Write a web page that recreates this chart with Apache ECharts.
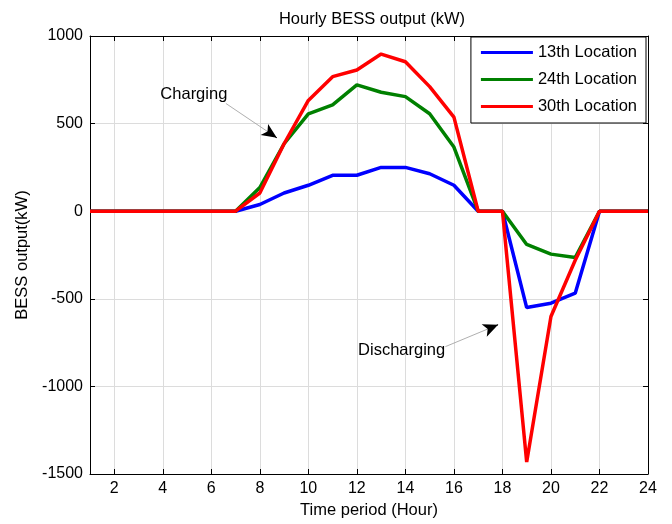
<!DOCTYPE html>
<html>

<head>
  <meta charset="utf-8">
  <title>Hourly BESS output</title>
  <script src="https://cdn.jsdelivr.net/npm/echarts@6/dist/echarts.min.js"></script>
  <style>
    html, body { margin: 0; padding: 0; background: #fff; }
  </style>
</head>

<body>
  <div id="main" style="width: 672px;height:524px;"></div>
  <script type="text/javascript">
    // hours 1..24
    var hours = [1, 2, 3, 4, 5, 6, 7, 8, 9, 10, 11, 12, 13, 14, 15, 16, 17, 18, 19, 20, 21, 22, 23, 24]
    var xTicks = [2, 4, 6, 8, 10, 12, 14, 16, 18, 20, 22, 24]
    var loc13 = [0, 0, 0, 0, 0, 0, 0, 38, 104, 148, 205, 205, 250, 250, 214, 148, 0, 0, -550, -525, -468, 0, 0, 0]
    var loc24 = [0, 0, 0, 0, 0, 0, 0, 135, 385, 556, 607, 721, 679, 654, 556, 366, 0, 0, -190, -245, -264, 0, 0, 0]
    var loc30 = [0, 0, 0, 0, 0, 0, 0, 104, 385, 632, 768, 806, 897, 853, 711, 537, 0, 0, -1432, -601, -280, 0, 0, 0]
    var seriesNames = ['13th Location', '24th Location', '30th Location']
    var seriesColors = ['#0000ff', '#008000', '#ff0000']

    // annotation anchors in data units: [x, y]
    var chargeText = [3.9, 665]
    var chargeArrow = [[6.6, 615], [8.7, 419]]
    var dischargeText = [12.05, -794]
    var dischargeArrow = [[15.65, -773], [17.82, -648]]

    var FONT = 'Liberation Sans'

    function pairs(ys) {
      return hours.map(function (h, i) { return [h, ys[i]] })
    }

    function arrowLines(seg) {
      // thin grey shaft, black head
      var a = seg[0], b = seg[1]
      var k = 0.85
      var mid = [a[0] + (b[0] - a[0]) * k, a[1] + (b[1] - a[1]) * k]
      return [
        [{ coord: a, symbol: 'none', lineStyle: { color: '#9a9a9a', width: 0.8, type: 'solid' } },
         { coord: b, symbol: 'none' }],
        [{ coord: mid, symbol: 'none', lineStyle: { color: '#000', width: 1, type: 'solid' } },
         { coord: b, symbol: 'arrow', symbolSize: [10, 15] }]
      ]
    }

    var myChart = echarts.init(document.getElementById('main'))

    var axisText = { color: '#000', fontFamily: FONT, fontSize: 16 }

    var series = [loc13, loc24, loc30].map(function (ys, i) {
      return {
        name: seriesNames[i],
        type: 'line',
        data: pairs(ys),
        symbol: 'none',
        lineStyle: { color: seriesColors[i], width: 3.5 },
        itemStyle: { color: seriesColors[i] },
        z: 3 + i,
        animation: false
      }
    })
    series.push({
      type: 'line',
      data: [],
      silent: true,
      animation: false,
      z: 10,
      markLine: {
        silent: true,
        animation: false,
        label: { show: false },
        symbol: ['none', 'none'],
        data: arrowLines(chargeArrow).concat(arrowLines(dischargeArrow))
      }
    })

    myChart.setOption({
      backgroundColor: '#fff',
      animation: false,
      title: {
        text: 'Hourly BESS output (kW)',
        left: 367,
        textAlign: 'center',
        top: 6,
        textStyle: { color: '#000', fontFamily: FONT, fontSize: 16.5, fontWeight: 'normal' }
      },
      legend: {
        data: seriesNames,
        orient: 'vertical',
        right: 26,
        top: 37,
        backgroundColor: '#fff',
        borderColor: '#000',
        borderWidth: 1,
        borderRadius: 0,
        padding: [7, 9, 8, 10],
        itemWidth: 52,
        itemHeight: 14,
        itemGap: 10,
        icon: 'path://M0,6 L52,6 L52,9 L0,9 Z',
        textStyle: { color: '#000', fontFamily: FONT, fontSize: 16.5, padding: [0, 0, 0, 0] }
      },
      grid: { left: 90, right: 24, top: 36, bottom: 48 },
      xAxis: [{
        type: 'value',
        min: 1,
        max: 24,
        name: 'Time period (Hour)',
        nameLocation: 'middle',
        nameGap: 28,
        nameTextStyle: { color: '#000', fontFamily: FONT, fontSize: 16.5 },
        axisLine: { onZero: false, lineStyle: { color: '#000', width: 1 } },
        axisTick: { inside: true, length: 5, customValues: xTicks, lineStyle: { color: '#000' } },
        axisLabel: Object.assign({ customValues: xTicks, margin: 7 }, axisText),
        splitLine: { show: true, lineStyle: { color: '#dcdcdc', width: 1 } }
      }, {
        type: 'value',
        min: 1,
        max: 24,
        position: 'top',
        axisLine: { onZero: false, lineStyle: { color: '#000', width: 1 } },
        axisTick: { inside: true, length: 5, customValues: xTicks, lineStyle: { color: '#000' } },
        axisLabel: { show: false },
        splitLine: { show: false }
      }],
      yAxis: [{
        type: 'value',
        min: -1500,
        max: 1000,
        interval: 500,
        name: 'BESS output(kW)',
        nameLocation: 'middle',
        nameGap: 52,
        nameTextStyle: { color: '#000', fontFamily: FONT, fontSize: 16.5 },
        axisLine: { show: true, onZero: false, lineStyle: { color: '#000', width: 1 } },
        axisTick: { show: true, inside: true, length: 5, lineStyle: { color: '#000' } },
        axisLabel: Object.assign({ margin: 7, formatter: function (v) { return String(v) } }, axisText),
        splitLine: { show: true, lineStyle: { color: '#dcdcdc', width: 1 } }
      }, {
        type: 'value',
        min: -1500,
        max: 1000,
        interval: 500,
        position: 'right',
        axisLine: { show: true, onZero: false, lineStyle: { color: '#000', width: 1 } },
        axisTick: { show: true, inside: true, length: 5, lineStyle: { color: '#000' } },
        axisLabel: { show: false },
        splitLine: { show: false }
      }],
      series: series
    })

    // annotation texts, placed through the axes
    function textAt(pt, str) {
      var p = myChart.convertToPixel({ xAxisIndex: 0, yAxisIndex: 0 }, pt)
      return {
        type: 'text',
        x: p[0],
        y: p[1],
        z: 20,
        style: {
          text: str,
          fill: '#000',
          font: '16.5px "' + FONT + '"',
          textAlign: 'left',
          textVerticalAlign: 'middle'
        }
      }
    }
    myChart.setOption({
      graphic: [textAt(chargeText, 'Charging'), textAt(dischargeText, 'Discharging')]
    })
  </script>
</body>

</html>
